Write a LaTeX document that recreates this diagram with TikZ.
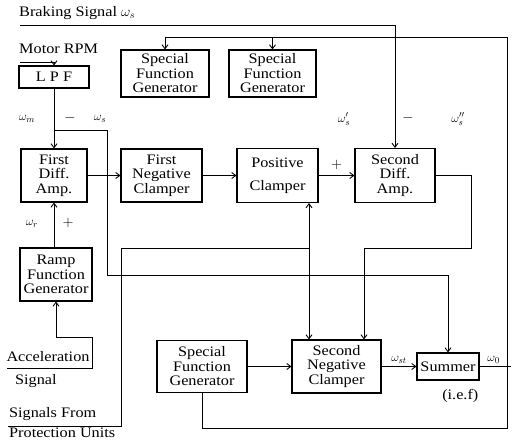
\documentclass[tikz,border=0pt]{standalone}
\usepackage{fontspec}
\setmainfont{Liberation Serif}[FakeStretch=1.12]
\usepackage{amsmath}
\usetikzlibrary{positioning,arrows.meta}

\begin{document}
\begin{tikzpicture}[x=1pt, y=-1pt, >={Straight Barb[length=4pt,width=6pt]},
    blk/.style={draw, line width=1.1pt, align=center, inner sep=1pt, font=\fontsize{14.5}{14.5}\selectfont},
    lbl/.style={font=\fontsize{14.5}{14.5}\selectfont, inner sep=1pt},
    sig/.style={font=\fontsize{12.5}{12.5}\selectfont, inner sep=1pt},
    wire/.style={line width=0.9pt}]
\useasboundingbox (0,0) rectangle (512,447);

% Blocks
\node[blk, minimum width=70pt, minimum height=22pt] (lpf) at (54,77) {L P F};
\node[blk, minimum width=88pt, minimum height=47pt] (sfgA) at (165,73.5) {Special\\Function\\Generator};
\node[blk, minimum width=87pt, minimum height=47pt] (sfgB) at (272.5,73.5) {Special\\Function\\Generator};
\node[blk, minimum width=66pt, minimum height=53pt] (diffA) at (54,175.5) {First\\Diff.\\Amp.};
\node[blk, minimum width=81pt, minimum height=53pt] (negA) at (161.5,175.5) {First\\Negative\\Clamper};
\node[blk, minimum width=81pt, minimum height=54pt] (posc) at (277.5,175.5) {Positive\\[9pt]Clamper};
\node[blk, minimum width=80pt, minimum height=54pt] (diffB) at (395,175.5) {Second\\Diff.\\Amp.};
\node[blk, minimum width=72pt, minimum height=53pt] (ramp) at (56,274.5) {Ramp\\Function\\Generator};
\node[blk, minimum width=90pt, minimum height=52pt] (sfgC) at (202,366.5) {Special\\Function\\Generator};
\node[blk, minimum width=89pt, minimum height=53pt] (negB) at (336.5,366.5) {Second\\Negative\\Clamper};
\node[blk, minimum width=62pt, minimum height=27pt] (summer) at (448,366.5) {Summer};

% Texts
\node[lbl, anchor=west] (brkTxt) at (18,13) {Braking Signal $\omega_s$};
\node[lbl, anchor=west] (rpmTxt) at (18,49) {Motor RPM};
\node[lbl] (accTxt) at (48,357) {Acceleration};
\node[lbl, anchor=west] (accTxt2) at (14,381) {Signal};
\node[lbl, anchor=west] (protA) at (8,414) {Signals From};
\node[lbl, below=5pt of protA.south west, anchor=north west] (protB) {Protection Units};
\node[lbl, below=8pt of summer.south east, anchor=north east] (ief) {(i.e.f)};

% Signal names
\node[sig] (wm) at (27,119) {$\omega_m$};
\node[lbl] (mA) at (70,118) {$-$};
\node[sig] (ws) at (100,119) {$\omega_s$};
\node[sig] (wsA) at (344,119) {$\omega_s'$};
\node[lbl] (mB) at (408,118) {$-$};
\node[sig] (wsB) at (458,119) {$\omega_s''$};
\node[sig] (wr) at (32,224) {$\omega_r$};
\node[lbl] (pA) at (68,223) {$+$};

% Braking signal
\coordinate (brk) at (20,25);
\draw[wire,->] (brk) -| (diffB.north);

% Feedback to the upper generators
\coordinate (fbB) at (507,428);
\coordinate (fbT) at (507,37);
\draw[wire,->] (sfgC.south) |- (fbB) -- (fbT) -| (sfgA.north);
\draw[wire,->] (sfgB.north |- fbT) -- (sfgB.north);

% Motor RPM through the filter
\coordinate (rpm) at (20,62);
\draw[wire,->] (rpm) -| (lpf.north);
\draw[wire,->] (lpf.south) -- (diffA.north);
\coordinate (tap) at (54,130);
\coordinate (tapR) at (107,275);
\draw[wire,->] (tap) -| (tapR) -| (summer.north);

% Forward chain
\draw[wire,->] (diffA.east) -- (negA.west);
\draw[wire,->] (negA.east) -- (posc.west);
\draw[wire,->] (posc.east) -- node[lbl, above=4pt] {$+$} (diffB.west);

% Second diff. amp. back to second clamper
\coordinate (retR) at (471,248);
\coordinate (retL) at (364,248);
\draw[wire,->] (diffB.east) -| (retR) -- (retL) -- (retL |- negB.north);

% Protection units
\coordinate (prot) at (8,426);
\coordinate (protC) at (121,248);
\coordinate (protJ) at (309,248);
\draw[wire] (prot) -| (protC) -- (protJ);
\draw[wire,<->] (protJ |- posc.south) -- (protJ |- negB.north);

% Ramp and acceleration signal
\draw[wire,->] (ramp.north -| diffA) -- (diffA.south);
\coordinate (accL) at (7,368);
\coordinate (accR) at (92,337);
\draw[wire,->] (accL) -| (accR) -| (ramp.south);

% Bottom chain
\draw[wire,->] (sfgC.east) -- (negB.west);
\draw[wire,->] (negB.east) -- node[sig, above=2pt] {$\omega_{st}$} (summer.west);
\coordinate (out) at (511,366.5);
\draw[wire] (summer.east) -- node[sig, above=2pt, pos=0.45] {$\omega_0$} (out);

\end{tikzpicture}
\end{document}
